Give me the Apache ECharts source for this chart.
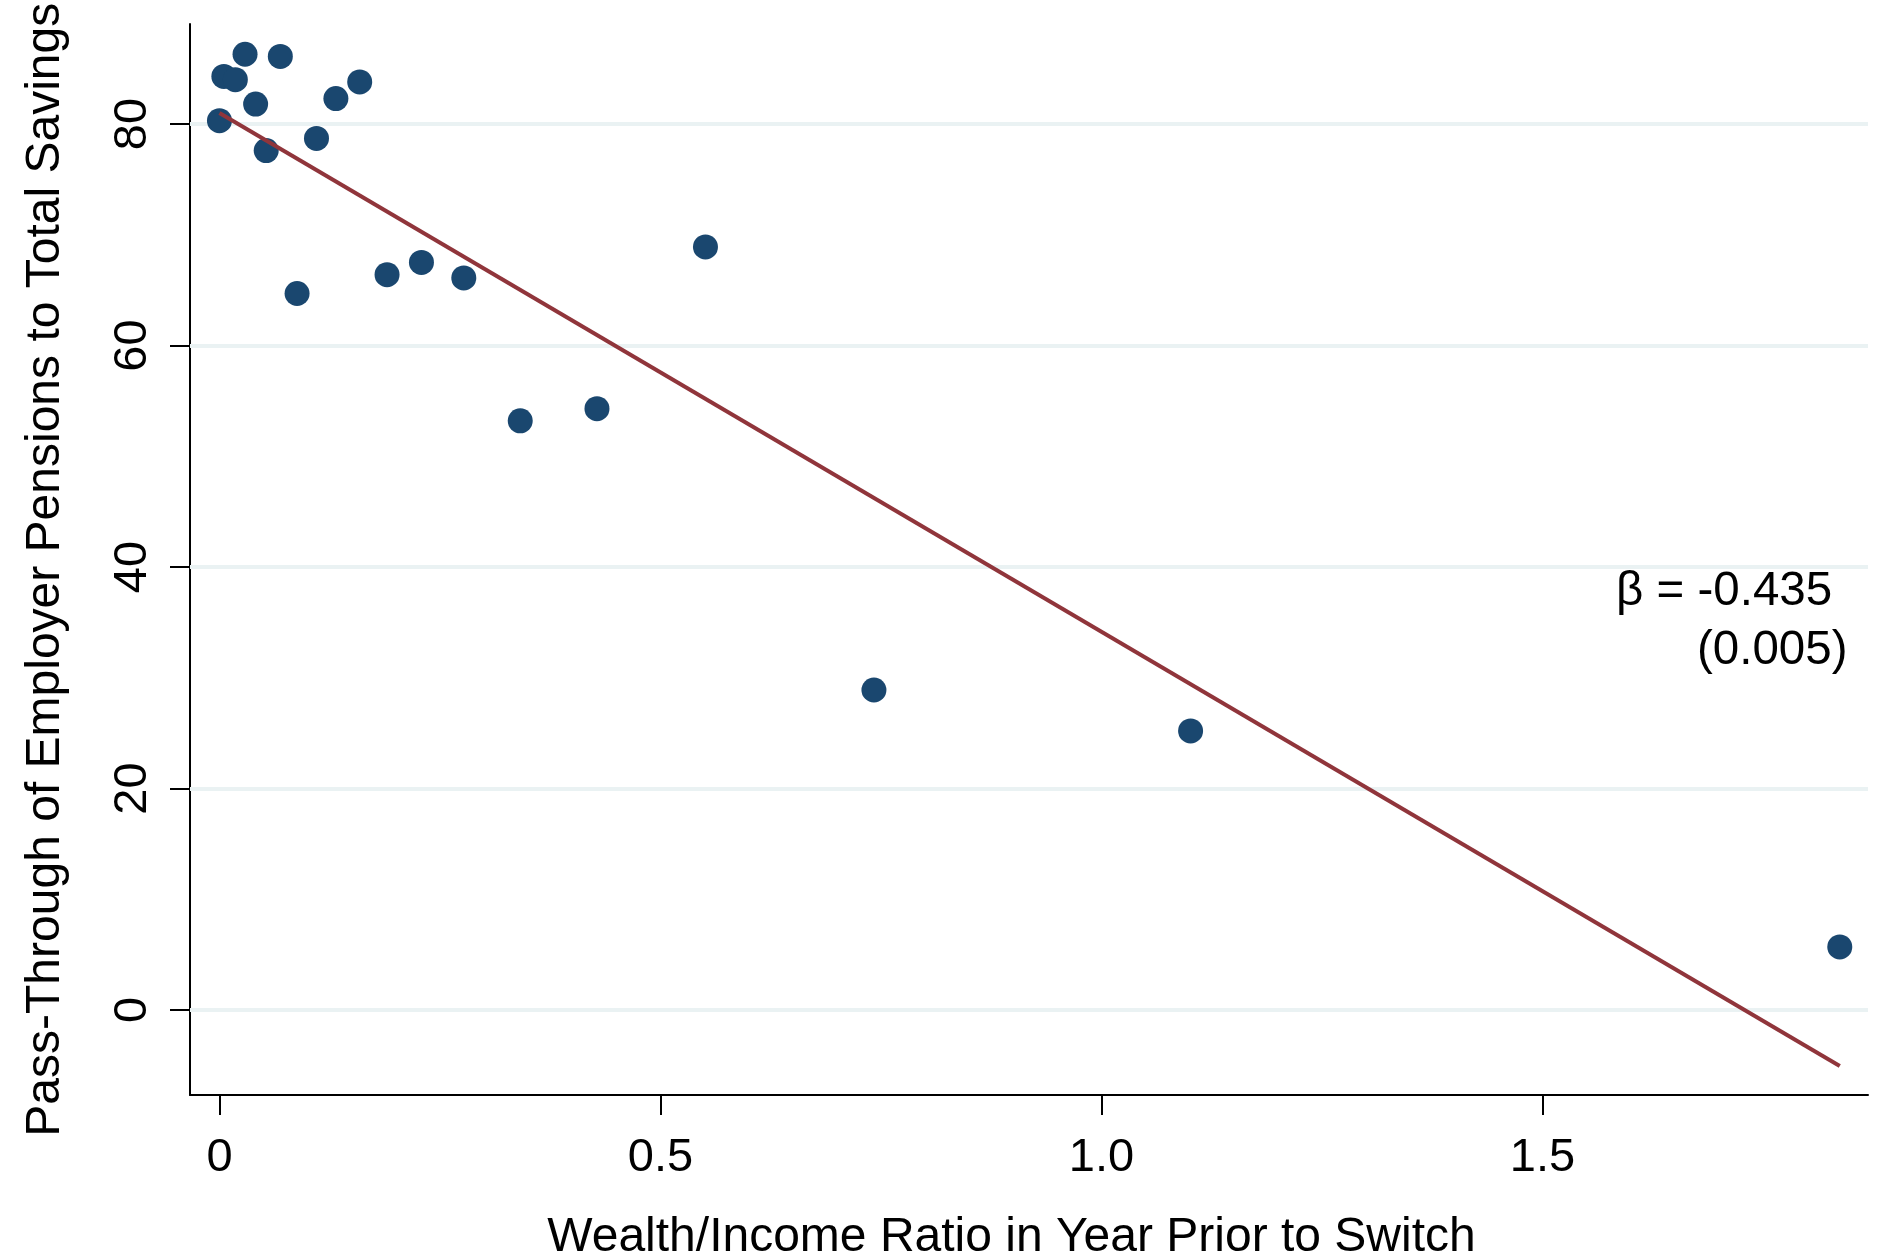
<!DOCTYPE html>
<html>
<head>
<meta charset="utf-8">
<script src="https://cdn.jsdelivr.net/npm/echarts@6/dist/echarts.min.js"></script>
<style>
  html, body { margin: 0; padding: 0; background: #fff; }
  #chart { width: 1880px; height: 1259px; }
</style>
</head>
<body>
<div id="chart"></div>
<script>
// Data
const wealthIncome = [0.000, 0.005, 0.018, 0.029, 0.069, 0.041, 0.053, 0.110, 0.132, 0.159,
                      0.088, 0.190, 0.229, 0.277, 0.341, 0.428, 0.551, 0.742, 1.101, 1.837];
const passThrough  = [80.3, 84.3, 84.0, 86.3, 86.1, 81.8, 77.6, 78.7, 82.3, 83.8,
                      64.7, 66.4, 67.5, 66.1, 53.2, 54.3, 68.9, 28.9, 25.2, 5.7];
const fitLineX = [0.000, 1.837];
const fitLineY = [81.0, -5.05];
const xTicks = [0, 0.5, 1.0, 1.5];
const yTicks = [0, 20, 40, 60, 80];
const xTitle = 'Wealth/Income Ratio in Year Prior to Switch';
const yTitle = 'Pass-Through of Employer Pensions to Total Savings';
const betaText = 'β = -0.435';
const seText = '(0.005)';

const FONT = '"Liberation Sans", Arial, Helvetica, sans-serif';
const scatterData = wealthIncome.map((x, i) => [x, passThrough[i]]);
const fitData = fitLineX.map((x, i) => [x, fitLineY[i]]);

const chart = echarts.init(document.getElementById('chart'), null, { renderer: 'canvas' });
chart.setOption({
  backgroundColor: '#ffffff',
  animation: false,
  grid: { left: 190, top: 24, width: 1678, height: 1071, containLabel: false },
  xAxis: {
    type: 'value',
    min: -0.0334,
    max: 1.869,
    axisLine: { show: true, onZero: false, lineStyle: { color: '#000', width: 2 } },
    axisTick: { show: true, customValues: xTicks, length: 20, lineStyle: { color: '#000', width: 2 } },
    axisLabel: {
      show: true, customValues: xTicks, margin: 40,
      fontSize: 47, fontFamily: FONT, color: '#000',
      formatter: v => (v === 0 ? '0' : v.toFixed(1))
    },
    splitLine: { show: false }
  },
  yAxis: {
    type: 'value',
    min: -7.67,
    max: 89.03,
    axisLine: { show: true, onZero: false, lineStyle: { color: '#000', width: 2 } },
    axisTick: { show: true, customValues: yTicks, length: 20, lineStyle: { color: '#000', width: 2 } },
    axisLabel: {
      show: true, customValues: yTicks, margin: 33, rotate: 90,
      fontSize: 47, fontFamily: FONT, color: '#000',
      formatter: v => String(v)
    },
    splitLine: { show: false }
  },
  series: [
    {
      type: 'scatter',
      data: scatterData,
      symbol: 'circle',
      symbolSize: 25,
      itemStyle: { color: '#1a476f', opacity: 1 },
      z: 3,
      markLine: {
        silent: true,
        symbol: ['none', 'none'],
        label: { show: false },
        z: 1,
        lineStyle: { color: '#eaf2f3', width: 4, type: 'solid', opacity: 1 },
        emphasis: { disabled: true },
        data: yTicks.map(v => ({ yAxis: v }))
      }
    },
    {
      type: 'line',
      data: fitData,
      showSymbol: false,
      symbol: 'none',
      lineStyle: { color: '#90353b', width: 4 },
      itemStyle: { color: '#90353b' },
      z: 4
    }
  ],
  graphic: [
    {
      type: 'text',
      x: 1011.5, y: 1238,
      style: { text: xTitle, font: '48px ' + FONT, fill: '#000', align: 'center', verticalAlign: 'middle' }
    },
    {
      type: 'text',
      x: 46, y: 569.7, rotation: Math.PI / 2,
      style: { text: yTitle, font: '48px ' + FONT, fill: '#000', align: 'center', verticalAlign: 'middle' }
    },
    {
      type: 'text',
      x: 1616, y: 592,
      style: { text: betaText, font: '47.5px ' + FONT, fill: '#000', align: 'left', verticalAlign: 'middle' }
    },
    {
      type: 'text',
      x: 1697, y: 651,
      style: { text: seText, font: '47.5px ' + FONT, fill: '#000', align: 'left', verticalAlign: 'middle' }
    }
  ]
});
</script>
</body>
</html>
